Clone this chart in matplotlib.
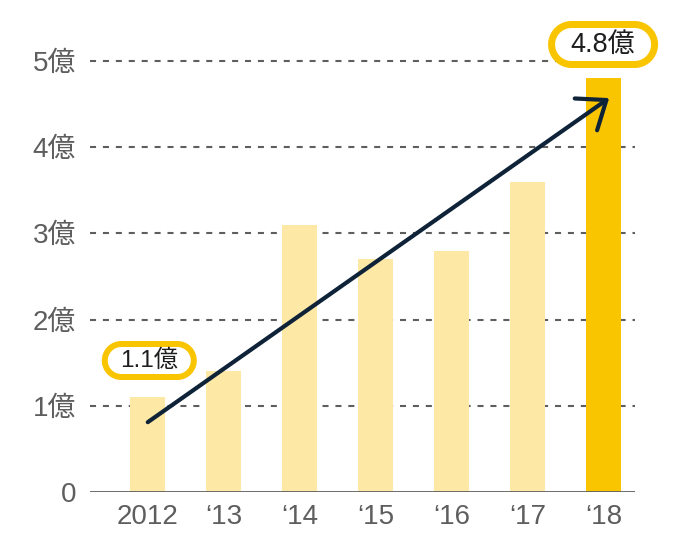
import matplotlib
matplotlib.use("Agg")
import numpy as np
import matplotlib.pyplot as plt
from matplotlib.patches import Polygon
from matplotlib.transforms import IdentityTransform

categories = ["2012", "\u201813", "\u201814", "\u201815", "\u201816", "\u201817", "\u201818"]
values = [1.1, 1.4, 3.1, 2.7, 2.8, 3.6, 4.8]
ytick_vals = [0, 1, 2, 3, 4, 5]
ytick_labels = ["0", "1億", "2億", "3億", "4億", "5億"]
label_first = "1.1億"
label_last = "4.8億"
arrow_start = (0.0, 0.81)
arrow_end = (6.07, 4.57)

FAM = ["Liberation Sans", "Noto Sans CJK JP", "DejaVu Sans"]
plt.rcParams['font.family'] = FAM

PALE = "#FDE8A6"
GOLD = "#F8C500"
GRAY = "#5E5E5E"
NAVY = "#0E2338"

fig = plt.figure(figsize=(6.88, 5.40), dpi=100)
ax = fig.add_axes([90/688, 48/540, (635-90)/688, (492-30)/540])

x = list(range(len(categories)))
colors = [PALE] * (len(values) - 1) + [GOLD]
ax.bar(x, values, width=0.46, color=colors, zorder=2)

ax.set_xlim(-0.76, 6.41)
ax.set_ylim(0, 462/86.2)

for v in ytick_vals[1:]:
    ax.axhline(v, color=GRAY, lw=1.5, ls=(0, (2.9, 3.3)), zorder=1)
ax.axhline(0, color=GRAY, lw=2.0, zorder=3)

for s in ax.spines.values():
    s.set_visible(False)
ax.set_yticks(ytick_vals)
ax.set_yticklabels(ytick_labels, fontsize=20, color=GRAY)
ax.set_xticks(x)
ax.set_xticklabels(categories, fontsize=20, color=GRAY)
ax.tick_params(axis='both', length=0)
ax.tick_params(axis='y', pad=10)
ax.tick_params(axis='x', pad=9)

ax.annotate("", xy=arrow_end, xytext=arrow_start,
            arrowprops=dict(arrowstyle="->,head_length=0.9,head_width=0.7",
                            lw=3.0, color=NAVY, shrinkA=0, shrinkB=0,
                            mutation_scale=20),
            zorder=5)


def pill(xd, yd, text, fs, w, h, lw):
    cx, cy = ax.transData.transform((xd, yd))
    r = h / 2
    half = w / 2 - r
    t1 = np.linspace(-np.pi / 2, np.pi / 2, 40)
    t2 = np.linspace(np.pi / 2, 3 * np.pi / 2, 40)
    right = np.column_stack([cx + half + r * np.cos(t1), cy + r * np.sin(t1)])
    left = np.column_stack([cx - half + r * np.cos(t2), cy + r * np.sin(t2)])
    pts = np.vstack([right, left])
    patch = Polygon(pts, closed=True, transform=IdentityTransform(), fc="white",
                    ec=GOLD, lw=lw * 72 / 100, zorder=6, clip_on=False)
    fig.add_artist(patch)
    fig.text(cx / fig.dpi / fig.get_figwidth(), cy / fig.dpi / fig.get_figheight(),
             text, ha="center", va="center", fontsize=fs, color="#1E1E1E", zorder=7)


pill(0.02, (492 - 360.5) / 86.2, label_first, 17.5, 89, 33, 6)
pill(5.99, (492 - 44.5) / 86.2, label_last, 19.5, 103, 40, 7)

fig.savefig("out.png", dpi=100)
